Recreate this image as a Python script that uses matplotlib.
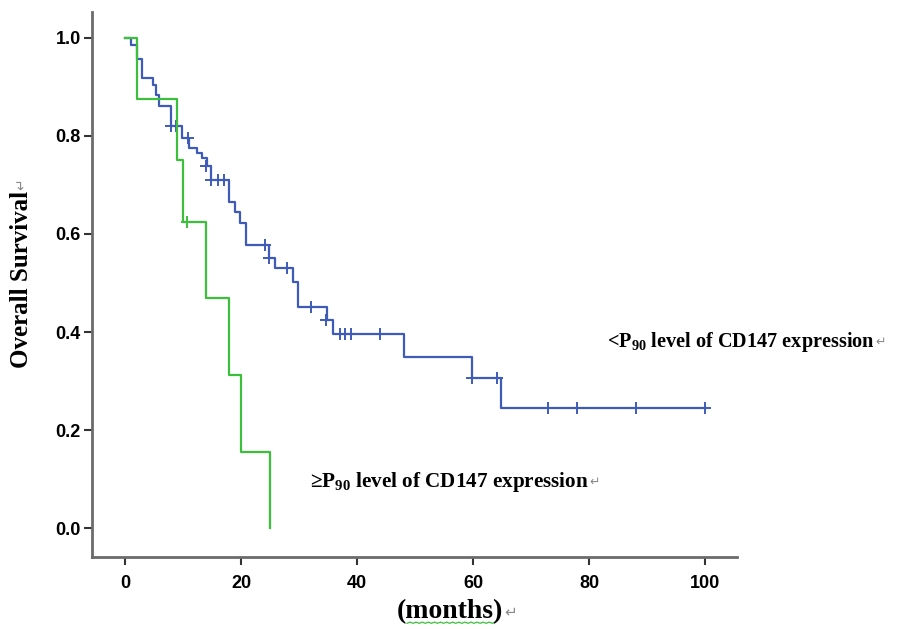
import numpy as np
import matplotlib
matplotlib.use('Agg')
import matplotlib.pyplot as plt
from matplotlib.lines import Line2D

plt.rcParams['mathtext.fontset'] = 'custom'
plt.rcParams['mathtext.rm'] = 'Liberation Serif:bold'
plt.rcParams['mathtext.bf'] = 'Liberation Serif:bold'

# <P90 group (blue): event times and survival after each drop
low_times = [0, 1.0, 2.0, 3.0, 4.9, 5.3, 5.9, 8.0, 9.9, 11.1, 12.4, 13.2, 14.1, 14.9,
             18.0, 19.0, 19.9, 20.8, 24.9, 25.9, 29.0, 29.9, 34.9, 35.8, 48.1, 59.9, 64.9]
low_surv = [1.0, 0.986, 0.957, 0.918, 0.904, 0.884, 0.861, 0.82, 0.795, 0.775, 0.766, 0.755, 0.739, 0.71,
            0.666, 0.644, 0.622, 0.578, 0.55, 0.53, 0.503, 0.452, 0.424, 0.396, 0.35, 0.307, 0.245]
low_cens_t = [8.0, 8.7, 10.8, 14.0, 14.9, 16.1, 17.1, 24.1, 24.9, 28.0, 32.1, 34.7,
              37.1, 37.9, 38.9, 43.9, 59.9, 64.1, 73.0, 78.0, 88.1, 100.0]
low_cens_s = [0.82, 0.82, 0.795, 0.739, 0.71, 0.71, 0.71, 0.578, 0.55, 0.53, 0.452, 0.424,
              0.396, 0.396, 0.396, 0.396, 0.307, 0.307, 0.245, 0.245, 0.245, 0.245]

# >=P90 group (green)
high_times = [0, 2, 9, 10, 14, 18, 20, 25]
high_surv = [1.0, 0.875, 0.75, 0.625, 0.469, 0.3125, 0.156, 0.0]
high_cens_t = [10.7]
high_cens_s = [0.625]

blue = '#3F5BB8'
green = '#3CC03C'
W, H = 902, 629

fig = plt.figure(figsize=(W / 100, H / 100), dpi=100, facecolor='white')
ax = fig.add_axes([0.102, 0.1145, 0.715, 0.8665])

# extend blue curve to last censored time
bt = low_times + [100.0]
bs = low_surv + [low_surv[-1]]
ax.step(bt, bs, where='post', color=blue, lw=1.6, zorder=2)
ax.plot(low_cens_t, low_cens_s, ls='none', marker='+', ms=9, mew=1.4, color=blue, zorder=2)

ax.step(high_times, high_surv, where='post', color=green, lw=1.6, zorder=3)
ax.plot(high_cens_t, high_cens_s, ls='none', marker='+', ms=9, mew=1.4, color=green, zorder=3)

ax.set_xlim(-5.7, 105.5)
ax.set_ylim(-0.059, 1.053)
ax.set_xticks(np.arange(0, 101, 20))
ax.set_yticks(np.arange(0, 1.01, 0.2))
ax.set_yticklabels(['%.1f' % v for v in np.arange(0, 1.01, 0.2)])

for s in ['top', 'right']:
    ax.spines[s].set_visible(False)
for s in ['left', 'bottom']:
    ax.spines[s].set_color('#6b6b6b')
    ax.spines[s].set_linewidth(2.0)

ax.tick_params(direction='out', length=6, width=1.5, color='#333333')
ax.tick_params(axis='x', pad=7)
ax.tick_params(axis='y', pad=2)
for lab in ax.get_xticklabels() + ax.get_yticklabels():
    lab.set_fontfamily('Liberation Sans')
    lab.set_fontweight('bold')
    lab.set_fontsize(13)

serif = 'Liberation Serif'


def return_mark(txt, size, rot=0):
    # small grey "return" sign after a piece of text, like in the source
    fig.canvas.draw()
    bb = txt.get_window_extent()
    if rot == 0:
        fig.text((bb.x1 + 1) / W, (bb.y0 + bb.y1) / 2 / H, '\u21b5', family='DejaVu Sans',
                 fontsize=size, color='#8a8a8a', ha='left', va='center')
    else:
        fig.text((bb.x0 + bb.x1) / 2 / W, (bb.y1 + 1) / H, '\u21b5', family='DejaVu Sans',
                 fontsize=size, color='#8a8a8a', ha='center', va='bottom', rotation=90)
    return bb


yl = fig.text(22 / W, 1 - 368 / H, 'Overall Survival', family=serif, fontweight='bold',
              fontsize=18, rotation=90, ha='center', va='bottom')
return_mark(yl, 10, rot=90)

xl = fig.text(397 / W, 1 - 612 / H, '(months)', family=serif, fontweight='bold',
              fontsize=20, ha='left', va='center')
bb = return_mark(xl, 11)
# green spell-check squiggle under "months"
zx = np.linspace(bb.x0 + 10, bb.x1 - 8, 30)
zy = bb.y0 + 1.2 + 1.2 * (np.arange(30) % 2)
fig.add_artist(Line2D(zx / W, zy / H, color=green, lw=0.9, transform=fig.transFigure))

t1 = fig.text(607 / W, 1 - 342 / H, '<P$_{90}$ level of CD147 expression', family=serif,
              fontweight='bold', fontsize=14.6, ha='left', va='center')
return_mark(t1, 9)
t2 = fig.text(310 / W, 1 - 482 / H, '\u2265P$_{90}$ level of CD147 expression', family=serif,
              fontweight='bold', fontsize=15.2, ha='left', va='center')
return_mark(t2, 9)

fig.savefig('out.png', dpi=100, facecolor='white')
